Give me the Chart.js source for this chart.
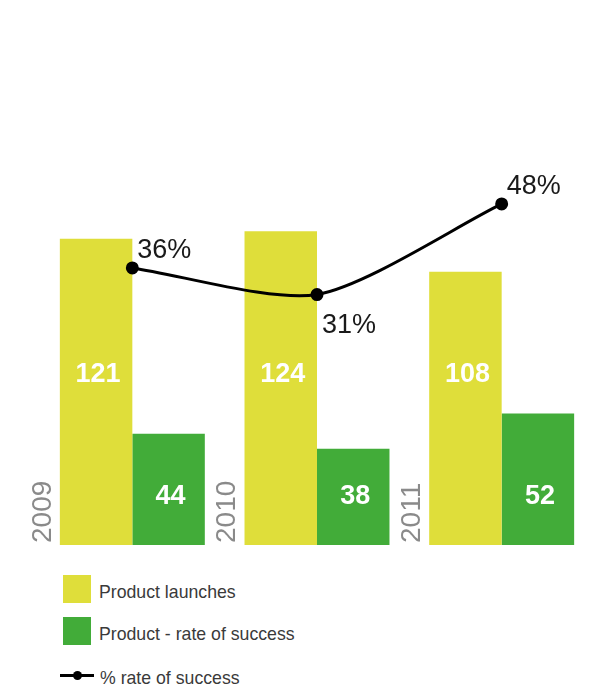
<!DOCTYPE html>
<html>
<head>
<meta charset="utf-8">
<script src="https://cdn.jsdelivr.net/npm/chart.js@4.4.1/dist/chart.umd.min.js"></script>
<style>
  body { margin: 0; background: #fff; font-family: "Liberation Sans", Arial, sans-serif; }
  #wrap { width: 603px; height: 685px; position: relative; }
  #legend { position: absolute; left: 60px; top: 575px; }
  .item { display: flex; align-items: center; height: 28px; margin-bottom: 14px; font-size: 17.7px; color: #3a3a3a; }
  .item .txt { padding-top: 6px; }
  .item.line { margin-top: 20px; height: 20px; }
  .box { width: 28px; height: 28px; margin-left: 3px; margin-right: 8px; }
  .lineKey { width: 34px; height: 3px; background: #000; position: relative; margin-right: 6px; }
  .lineKey span { position: absolute; left: 13px; top: -3px; width: 9px; height: 9px; border-radius: 50%; background: #000; }
</style>
</head>
<body>
<div id="wrap">
  <canvas id="chart" width="603" height="560"></canvas>
  <div id="legend"></div>
</div>
<script>
const years = ["2009", "2010", "2011"];
const launches = [121, 124, 108];
const successes = [44, 38, 52];
const successRate = [36, 31, 48];

const yellow = "#dfde3a";
const green = "#42ac39";

/* labels drawn on the canvas: years, bar values, percentages */
const labelPlugin = {
  id: "labels",
  afterDatasetsDraw(chart) {
    const ctx = chart.ctx;
    const bottom = chart.chartArea.bottom;
    ctx.save();

    // year labels, rotated, left of each group
    ctx.fillStyle = "#8a8a8a";
    ctx.font = "28px 'Liberation Sans', Arial, sans-serif";
    ctx.textAlign = "left";
    ctx.textBaseline = "middle";
    chart.getDatasetMeta(0).data.forEach((bar, i) => {
      const left = bar.x - bar.width / 2;
      ctx.save();
      ctx.translate(left - 17, bottom - 2);
      ctx.rotate(-Math.PI / 2);
      ctx.fillText(years[i], 0, 0);
      ctx.restore();
    });

    // values inside the bars
    ctx.fillStyle = "#fff";
    ctx.font = "bold 27px 'Liberation Sans', Arial, sans-serif";
    ctx.textAlign = "center";
    chart.getDatasetMeta(0).data.forEach((bar, i) => {
      ctx.fillText(launches[i], bar.x + 2, bottom - 170);
    });
    chart.getDatasetMeta(1).data.forEach((bar, i) => {
      ctx.fillText(successes[i], bar.x + 2, bottom - 48);
    });

    // percentage labels next to the line points
    const place = ["above", "below", "above"];
    ctx.fillStyle = "#1a1a1a";
    ctx.font = "27px 'Liberation Sans', Arial, sans-serif";
    ctx.textAlign = "left";
    ctx.textBaseline = "alphabetic";
    chart.getDatasetMeta(2).data.forEach((pt, i) => {
      const dy = place[i] === "above" ? -10 : 38;
      ctx.fillText(successRate[i] + "%", pt.x + 5, pt.y + dy);
    });
    ctx.restore();
  }
};

const chart = new Chart(document.getElementById("chart"), {
  data: {
    labels: years,
    datasets: [
      {
        type: "bar",
        label: "Product launches",
        data: launches,
        backgroundColor: yellow,
        yAxisID: "y",
        order: 2
      },
      {
        type: "bar",
        label: "Product - rate of success",
        data: successes,
        backgroundColor: green,
        yAxisID: "y",
        order: 2
      },
      {
        type: "line",
        label: "% rate of success",
        data: successRate,
        borderColor: "#000",
        backgroundColor: "#000",
        borderWidth: 3,
        pointRadius: 5,
        tension: 0.25,
        yAxisID: "y2",
        order: 1
      }
    ]
  },
  options: {
    responsive: false,
    animation: false,
    layout: { padding: { left: 40, right: 9, top: 140, bottom: 15 } },
    datasets: {
      bar: { categoryPercentage: 0.785, barPercentage: 1.0 }
    },
    scales: {
      x: { display: false },
      y: { display: false, min: 0, max: 160 },
      y2: { display: false, min: -16, max: 60 }
    },
    plugins: {
      legend: { display: false },
      tooltip: { enabled: false }
    }
  },
  plugins: [labelPlugin]
});

/* HTML legend built from the datasets */
const legend = document.getElementById("legend");
chart.data.datasets.forEach(ds => {
  const item = document.createElement("div");
  item.className = "item";
  if (ds.type === "bar") {
    item.innerHTML = `<div class="box" style="background:${ds.backgroundColor}"></div><span class="txt">${ds.label}</span>`;
  } else {
    item.classList.add("line");
    item.innerHTML = `<div class="lineKey"><span></span></div><span class="txt">${ds.label}</span>`;
  }
  legend.appendChild(item);
});
</script>
</body>
</html>
